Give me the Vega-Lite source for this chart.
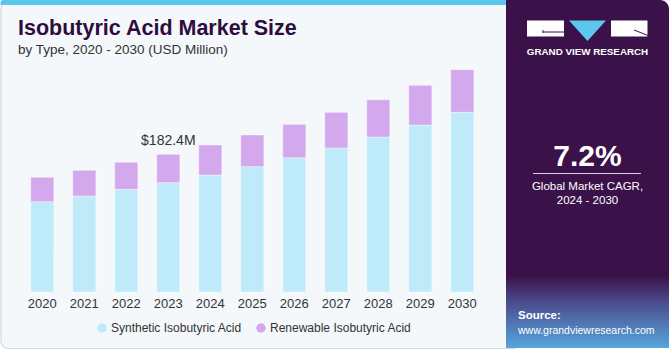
{
  "$schema": "https://vega.github.io/schema/vega-lite/v6.json",
  "width": 671,
  "height": 350,
  "padding": 0,
  "autosize": "none",
  "background": "#ffffff",
  "config": {"view": {"stroke": null}, "font": "Liberation Sans"},
  "datasets": {
    "market": [
      {"year": "2020", "type": "Synthetic Isobutyric Acid", "value": 119.6},
      {"year": "2020", "type": "Renewable Isobutyric Acid", "value": 32.3},
      {"year": "2021", "type": "Synthetic Isobutyric Acid", "value": 127.2},
      {"year": "2021", "type": "Renewable Isobutyric Acid", "value": 34.0},
      {"year": "2022", "type": "Synthetic Isobutyric Acid", "value": 136.0},
      {"year": "2022", "type": "Renewable Isobutyric Acid", "value": 35.8},
      {"year": "2023", "type": "Synthetic Isobutyric Acid", "value": 144.8},
      {"year": "2023", "type": "Renewable Isobutyric Acid", "value": 37.6},
      {"year": "2024", "type": "Synthetic Isobutyric Acid", "value": 155.0},
      {"year": "2024", "type": "Renewable Isobutyric Acid", "value": 39.7},
      {"year": "2025", "type": "Synthetic Isobutyric Acid", "value": 166.0},
      {"year": "2025", "type": "Renewable Isobutyric Acid", "value": 42.0},
      {"year": "2026", "type": "Synthetic Isobutyric Acid", "value": 177.9},
      {"year": "2026", "type": "Renewable Isobutyric Acid", "value": 44.2},
      {"year": "2027", "type": "Synthetic Isobutyric Acid", "value": 190.7},
      {"year": "2027", "type": "Renewable Isobutyric Acid", "value": 47.3},
      {"year": "2028", "type": "Synthetic Isobutyric Acid", "value": 205.3},
      {"year": "2028", "type": "Renewable Isobutyric Acid", "value": 49.4},
      {"year": "2029", "type": "Synthetic Isobutyric Acid", "value": 221.2},
      {"year": "2029", "type": "Renewable Isobutyric Acid", "value": 52.6},
      {"year": "2030", "type": "Synthetic Isobutyric Acid", "value": 238.0},
      {"year": "2030", "type": "Renewable Isobutyric Acid", "value": 56.5}
    ],
    "annot": [{"year": "2023", "total": 182.4, "label": "$182.4M"}]
  },
  "layer": [
    {
      "data": {"values": [{}]},
      "mark": {"type": "rect", "fill": "#f4f8fb", "stroke": "#d4d7da", "strokeWidth": 1.2, "cornerRadius": 7},
      "encoding": {"x": {"value": 1}, "x2": {"value": 520}, "y": {"value": 1}, "y2": {"value": 348.5}}
    },
    {
      "data": {"values": [{}]},
      "mark": {"type": "rect", "fill": "#5bc6ee", "cornerRadiusTopLeft": 6},
      "encoding": {"x": {"value": 0.5}, "x2": {"value": 520}, "y": {"value": 0}, "y2": {"value": 5}}
    },
    {
      "data": {"values": [{}]},
      "mark": {"type": "rect", "fill": "#3a1249", "cornerRadiusTopRight": 9},
      "encoding": {"x": {"value": 506}, "x2": {"value": 669}, "y": {"value": 0}, "y2": {"value": 348}}
    },
    {
      "data": {"values": [{}]},
      "mark": {
        "type": "rect",
        "fill": {
          "gradient": "linear", "x1": 0, "y1": 0, "x2": 0, "y2": 1,
          "stops": [
            {"offset": 0, "color": "#3a1249"},
            {"offset": 0.35, "color": "#4b4a8c"},
            {"offset": 1, "color": "#56a6dc"}
          ]
        }
      },
      "encoding": {"x": {"value": 506}, "x2": {"value": 669}, "y": {"value": 276}, "y2": {"value": 348}}
    },
    {
      "data": {"values": [{}]},
      "mark": {"type": "rect", "fill": "#ffffff"},
      "encoding": {"x": {"value": 527}, "x2": {"value": 564}, "y": {"value": 20.5}, "y2": {"value": 36.5}}
    },
    {
      "data": {"values": [{}]},
      "mark": {"type": "rect", "fill": "#ffffff"},
      "encoding": {"x": {"value": 611}, "x2": {"value": 647.5}, "y": {"value": 20.5}, "y2": {"value": 36.5}}
    },
    {
      "data": {"values": [{}]},
      "mark": {"type": "point", "filled": true, "opacity": 1, "fill": "#5bc6ee", "strokeWidth": 0, "shape": "M-1,-0.55L1,-0.55L0,0.55Z", "size": 1369},
      "encoding": {"x": {"value": 587.5}, "y": {"value": 30.7}}
    },
    {
      "data": {"values": [{}]},
      "mark": {"type": "rule", "stroke": "#3a1249", "strokeWidth": 1},
      "encoding": {"x": {"value": 543}, "x2": {"value": 564}, "y": {"value": 32}, "y2": {"value": 32}}
    },
    {
      "data": {"values": [{}]},
      "mark": {"type": "rule", "stroke": "#3a1249", "strokeWidth": 1},
      "encoding": {"x": {"value": 543}, "x2": {"value": 543}, "y": {"value": 30}, "y2": {"value": 33}}
    },
    {
      "data": {"values": [{}]},
      "mark": {"type": "rule", "stroke": "#3a1249", "strokeWidth": 1},
      "encoding": {"x": {"value": 634}, "x2": {"value": 648}, "y": {"value": 30}, "y2": {"value": 35.5}}
    },
    {
      "data": {"values": [{}]},
      "mark": {"type": "text", "text": "GRAND VIEW RESEARCH", "font": "Liberation Sans", "fontWeight": "bold", "fontSize": 9.8, "fill": "#ffffff", "align": "center", "baseline": "middle"},
      "encoding": {"x": {"value": 587.5}, "y": {"value": 51.5}}
    },
    {
      "data": {"values": [{}]},
      "mark": {"type": "text", "text": "7.2%", "font": "Liberation Sans", "fontWeight": "bold", "fontSize": 30, "fill": "#ffffff", "align": "center", "baseline": "alphabetic"},
      "encoding": {"x": {"value": 587.5}, "y": {"value": 165.5}}
    },
    {
      "data": {"values": [{}]},
      "mark": {"type": "rule", "stroke": "#d9cfe0", "strokeWidth": 1},
      "encoding": {"x": {"value": 533}, "x2": {"value": 641}, "y": {"value": 173.5}, "y2": {"value": 173.5}}
    },
    {
      "data": {"values": [{}]},
      "mark": {"type": "text", "text": "Global Market CAGR,", "font": "Liberation Sans", "fontSize": 11.5, "fill": "#ffffff", "align": "center", "baseline": "middle"},
      "encoding": {"x": {"value": 587.5}, "y": {"value": 186.5}}
    },
    {
      "data": {"values": [{}]},
      "mark": {"type": "text", "text": "2024 - 2030", "font": "Liberation Sans", "fontSize": 11.5, "fill": "#ffffff", "align": "center", "baseline": "middle"},
      "encoding": {"x": {"value": 587.5}, "y": {"value": 200.5}}
    },
    {
      "data": {"values": [{}]},
      "mark": {"type": "text", "text": "Source:", "font": "Liberation Sans", "fontWeight": "bold", "fontSize": 11.5, "fill": "#ffffff", "align": "left", "baseline": "middle"},
      "encoding": {"x": {"value": 518}, "y": {"value": 316}}
    },
    {
      "data": {"values": [{}]},
      "mark": {"type": "text", "text": "www.grandviewresearch.com", "font": "Liberation Sans", "fontSize": 10.5, "fill": "#ffffff", "align": "left", "baseline": "middle"},
      "encoding": {"x": {"value": 518}, "y": {"value": 330.5}}
    },
    {
      "data": {"values": [{}]},
      "mark": {"type": "text", "text": "Isobutyric Acid Market Size", "font": "Liberation Sans", "fontWeight": "bold", "fontSize": 21.5, "fill": "#2e0d3e", "align": "left", "baseline": "alphabetic"},
      "encoding": {"x": {"value": 18}, "y": {"value": 35}}
    },
    {
      "data": {"values": [{}]},
      "mark": {"type": "text", "text": "by Type, 2020 - 2030 (USD Million)", "font": "Liberation Sans", "fontSize": 13.5, "fill": "#333333", "align": "left", "baseline": "alphabetic"},
      "encoding": {"x": {"value": 18}, "y": {"value": 53.5}}
    },
    {
      "data": {"name": "market"},
      "mark": {"type": "bar", "stroke": "#ffffff", "strokeOpacity": 0.5, "strokeWidth": 0.8},
      "encoding": {
        "x": {
          "field": "year", "type": "ordinal",
          "scale": {"range": [21.3, 483.3], "paddingInner": 0.45, "paddingOuter": 0.225},
          "axis": {"title": null, "domain": false, "ticks": false, "labelAngle": 0, "labelFontSize": 13, "labelColor": "#333333", "labelFont": "Liberation Sans", "labelPadding": 4, "offset": -57, "zindex": 2}
        },
        "y": {
          "field": "value", "type": "quantitative", "stack": "zero",
          "scale": {"domain": [0, 386.8], "range": [292, 0], "nice": false, "zero": true},
          "axis": null
        },
        "color": {
          "field": "type", "type": "nominal",
          "scale": {"domain": ["Synthetic Isobutyric Acid", "Renewable Isobutyric Acid"], "range": ["#beeaf9", "#d4a8ec"]},
          "legend": {
            "title": null, "orient": "none", "direction": "horizontal", "legendX": 96, "legendY": 322,
            "symbolType": "circle", "symbolSize": 90, "symbolStrokeWidth": 0, "labelFontSize": 12, "labelColor": "#333333", "labelFont": "Liberation Sans", "labelOffset": 3, "columnPadding": 13, "labelLimit": 300
          }
        },
        "order": {"field": "type", "sort": "descending"}
      }
    },
    {
      "data": {"name": "annot"},
      "mark": {"type": "text", "fontSize": 14, "font": "Liberation Sans", "fill": "#333333", "align": "center", "baseline": "alphabetic", "dy": -9},
      "encoding": {
        "x": {"field": "year", "type": "ordinal"},
        "y": {"field": "total", "type": "quantitative"},
        "text": {"field": "label"}
      }
    }
  ]
}
